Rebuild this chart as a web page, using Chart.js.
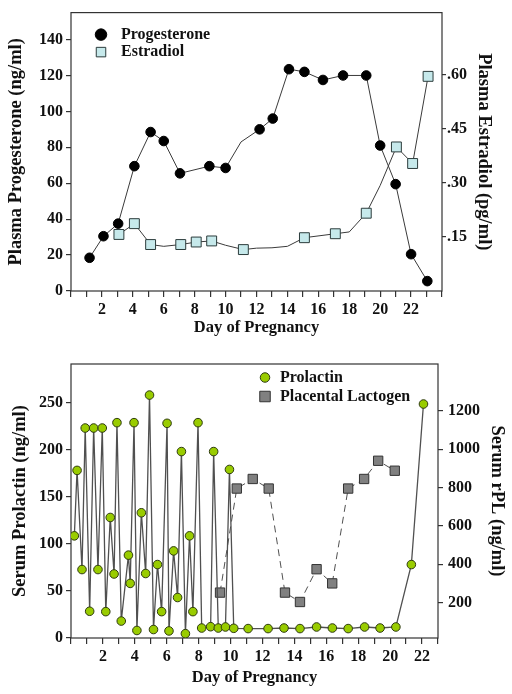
<!DOCTYPE html>
<html lang="en">
<head>
<meta charset="UTF-8">
<meta name="viewport" content="width=device-width, initial-scale=1.0">
<script src="https://cdn.jsdelivr.net/npm/chart.js"></script>
<title>Pregnancy hormones</title>
<style>
  body { margin: 0; background: #fff; }
  canvas { display: block; }
</style>
</head>
<body>
<canvas id="topChart" width="512" height="340"></canvas>
<canvas id="bottomChart" width="512" height="354"></canvas>
<script>
// --- top panel: plasma progesterone (left axis) and estradiol (right axis)
const progDays = [1.2, 2.1, 3.05, 4.1, 5.15, 6.0, 7.05, 8.95, 10.0, 12.2, 13.05, 14.1, 15.1, 16.3, 17.6, 19.1, 20.0, 21.0, 22.0, 23.05];
const progVals = [18.5, 30.5, 37.5, 69.5, 88.5, 83.5, 65.5, 69.5, 68.5, 90, 96, 123.5, 122, 117.5, 120, 120, 81, 59.5, 20.5, 5.5];
// corners of the line where no marker is drawn
const progBendDays = [11.0];
const progBendVals = [83];

const estDays = [3.1, 4.1, 5.15, 7.1, 8.1, 9.1, 11.15, 15.1, 17.1, 19.1, 21.05, 22.1, 23.1];
const estVals = [0.157, 0.187, 0.129, 0.129, 0.136, 0.139, 0.115, 0.148, 0.159, 0.216, 0.400, 0.354, 0.596];
const estBendDays = [6.0, 10.0, 12.0, 13.0, 14.0, 18.0, 20.0];
const estBendVals = [0.124, 0.127, 0.119, 0.120, 0.124, 0.164, 0.293];
const estTicks = [0.15, 0.30, 0.45, 0.60];

// --- bottom panel: serum prolactin (left axis) and placental lactogen (right axis)
const prlDays = [0.21, 0.38, 0.69, 0.89, 1.17, 1.42, 1.69, 1.96, 2.18, 2.46, 2.7, 2.88, 3.15, 3.6, 3.71, 3.95, 4.13, 4.41, 4.68, 4.92,
                 5.17, 5.42, 5.68, 6.02, 6.14, 6.43, 6.68, 6.92, 7.17, 7.43, 7.64, 7.96, 8.19, 8.75, 8.94, 9.23, 9.68, 9.93, 10.2, 11.1,
                 12.35, 13.35, 14.35, 15.39, 16.38, 17.37, 18.4, 19.37, 20.36, 21.33, 22.09];
const prlVals = [108.5, 178, 72.7, 223, 28.4, 223, 72.7, 223, 28, 128, 68, 228.7, 18, 88, 58, 228.7, 8, 133, 68.5, 258,
                 9, 78, 28, 228, 7.5, 92.5, 43, 198, 4.6, 108.5, 28, 228.7, 10.6, 12, 198, 10.6, 11.7, 179, 10.3, 10,
                 10, 10.6, 10, 11.7, 10.6, 10, 11.7, 10.6, 11.7, 78, 248.5];

const plDays = [9.34, 10.39, 11.39, 12.39, 13.41, 14.35, 15.39, 16.37, 17.37, 18.37, 19.25, 20.29];
const plVals = [252, 795, 845, 795, 252, 203, 374, 300, 795, 845, 940, 888];
const rplTicks = [200, 400, 600, 800, 1000, 1200];

const SERIF = '"Liberation Serif", "Times New Roman", serif';
Chart.defaults.font.family = SERIF;
Chart.defaults.color = '#111';

function series(days, vals, bendDays, bendVals) {
    const pts = days.map((d, i) => ({ x: d, y: vals[i], marked: true }));
    (bendDays || []).forEach((d, i) => pts.push({ x: d, y: bendVals[i], marked: false }));
    return pts.sort((a, b) => a.x - b.x);
}

function markerRadius(r) {
    return c => (c.raw && c.raw.marked) ? r : 0;
}

// box round the plot area
const frame = {
    id: 'frame',
    beforeDatasetsDraw(chart) {
        const { ctx, chartArea: a } = chart;
        ctx.save();
        ctx.strokeStyle = '#333';
        ctx.lineWidth = 1.2;
        ctx.strokeRect(a.left, a.top, a.right - a.left, a.bottom - a.top);
        ctx.restore();
    }
};

// legend drawn inside the plot area
const insideLegend = {
    id: 'insideLegend',
    afterDatasetsDraw(chart, args, opts) {
        const { ctx, chartArea } = chart;
        ctx.save();
        ctx.font = 'bold 16px ' + SERIF;
        ctx.textBaseline = 'middle';
        opts.sizes.forEach((size, i) => {
            const ds = chart.data.datasets[i];
            const x = chartArea.left + opts.x;
            const y = chartArea.top + opts.y + i * opts.gap;
            ctx.fillStyle = ds.pointBackgroundColor;
            ctx.strokeStyle = ds.pointBorderColor;
            ctx.lineWidth = 1;
            ctx.beginPath();
            if (ds.pointStyle === 'rect') ctx.rect(x - size / 2, y - size / 2, size, size);
            else ctx.arc(x, y, size / 2, 0, Math.PI * 2);
            ctx.fill();
            ctx.stroke();
            ctx.fillStyle = '#111';
            ctx.fillText(ds.label, x + opts.textGap, y);
        });
        ctx.restore();
    }
};

const tickFont = { size: 16, weight: 'bold' };
const axisGrid = { drawOnChartArea: false, color: '#333', lineWidth: 1.2, tickLength: 5 };

function evenLabels(max) {
    return v => (v % 2 === 0 && v > 0 && v < max) ? v : '';
}

new Chart(document.getElementById('topChart'), {
    type: 'line',
    data: {
        datasets: [{
            label: 'Progesterone',
            data: series(progDays, progVals, progBendDays, progBendVals),
            yAxisID: 'y',
            borderColor: '#3a3a3a',
            borderWidth: 1,
            pointStyle: 'circle',
            pointRadius: markerRadius(4.8),
            pointBackgroundColor: '#000',
            pointBorderColor: '#000',
            pointBorderWidth: 1
        }, {
            label: 'Estradiol',
            data: series(estDays, estVals, estBendDays, estBendVals),
            yAxisID: 'y1',
            borderColor: '#3a3a3a',
            borderWidth: 1,
            pointStyle: 'rect',
            pointRadius: markerRadius(7),
            pointBackgroundColor: '#c6e9eb',
            pointBorderColor: '#2c3c3c',
            pointBorderWidth: 1
        }]
    },
    options: {
        responsive: false,
        animation: false,
        events: [],
        layout: { padding: { top: 7 } },
        plugins: {
            legend: { display: false },
            tooltip: { enabled: false },
            insideLegend: { x: 30, y: 22, gap: 17.5, textGap: 20, sizes: [11.5, 9.5] }
        },
        scales: {
            x: {
                type: 'linear', min: 0, max: 24,
                afterFit: s => { s.height = 49; },
                grid: { ...axisGrid, tickLength: 6 },
                border: { display: false },
                ticks: { stepSize: 1, autoSkip: false, maxRotation: 0, padding: 3, font: tickFont, callback: evenLabels(24) },
                title: { display: true, text: 'Day of Pregnancy', font: { size: 16.5, weight: 'bold' }, padding: { top: 0, bottom: 2 } }
            },
            y: {
                position: 'left', min: 0, max: 155,
                afterFit: s => { s.width = 71; },
                grid: axisGrid,
                border: { display: false },
                ticks: { stepSize: 20, includeBounds: false, padding: 3, font: tickFont },
                title: { display: true, text: 'Plasma Progesterone (ng/ml)', font: { size: 18.5, weight: 'bold' }, padding: { top: 5, bottom: 0 } }
            },
            y1: {
                position: 'right', min: 0, max: 0.773,
                afterFit: s => { s.width = 70; },
                afterBuildTicks: s => { s.ticks = estTicks.map(v => ({ value: v })); },
                grid: { ...axisGrid, tickLength: 4 },
                border: { display: false },
                ticks: { padding: 1, font: tickFont, callback: v => v.toFixed(2).slice(1) },
                title: { display: true, text: 'Plasma Estradiol (pg/ml)', font: { size: 18.5, weight: 'bold' }, padding: { top: 17, bottom: 0 } }
            }
        }
    },
    plugins: [frame, insideLegend]
});

new Chart(document.getElementById('bottomChart'), {
    type: 'line',
    data: {
        datasets: [{
            label: 'Prolactin',
            data: series(prlDays, prlVals),
            yAxisID: 'y',
            borderColor: '#505050',
            borderWidth: 1.3,
            pointStyle: 'circle',
            pointRadius: markerRadius(4.3),
            pointBackgroundColor: '#99cc00',
            pointBorderColor: '#2e3a10',
            pointBorderWidth: 1
        }, {
            label: 'Placental Lactogen',
            data: series(plDays, plVals),
            yAxisID: 'y1',
            borderColor: '#505050',
            borderWidth: 1,
            borderDash: [7, 5],
            pointStyle: 'rect',
            pointRadius: markerRadius(6.6),
            pointBackgroundColor: '#808080',
            pointBorderColor: '#333',
            pointBorderWidth: 1
        }]
    },
    options: {
        responsive: false,
        animation: false,
        events: [],
        layout: { padding: { top: 24 } },
        plugins: {
            legend: { display: false },
            tooltip: { enabled: false },
            insideLegend: { x: 194, y: 13.5, gap: 19, textGap: 15, sizes: [9.5, 10.5] }
        },
        scales: {
            x: {
                type: 'linear', min: 0, max: 23,
                afterFit: s => { s.height = 56; },
                grid: { ...axisGrid, tickLength: 6 },
                border: { display: false },
                ticks: { stepSize: 1, autoSkip: false, maxRotation: 0, padding: 3, font: tickFont, callback: evenLabels(23) },
                title: { display: true, text: 'Day of Pregnancy', font: { size: 16.5, weight: 'bold' }, padding: { top: 0, bottom: 6.5 } }
            },
            y: {
                position: 'left', min: 0, max: 291,
                afterFit: s => { s.width = 71; },
                grid: axisGrid,
                border: { display: false },
                ticks: { stepSize: 50, includeBounds: false, padding: 3, font: tickFont },
                title: { display: true, text: 'Serum Prolactin (ng/ml)', font: { size: 18.5, weight: 'bold' }, padding: { top: 9, bottom: 0 } }
            },
            y1: {
                position: 'right', min: 15, max: 1445,
                afterFit: s => { s.width = 74; },
                afterBuildTicks: s => { s.ticks = rplTicks.map(v => ({ value: v })); },
                grid: axisGrid,
                border: { display: false },
                ticks: { padding: 5, font: tickFont, callback: v => String(v) },
                title: { display: true, text: 'Serum rPL (ng/ml)', font: { size: 18.5, weight: 'bold' }, padding: { top: 4.5, bottom: 0 } }
            }
        }
    },
    plugins: [frame, insideLegend]
});
</script>
</body>
</html>
